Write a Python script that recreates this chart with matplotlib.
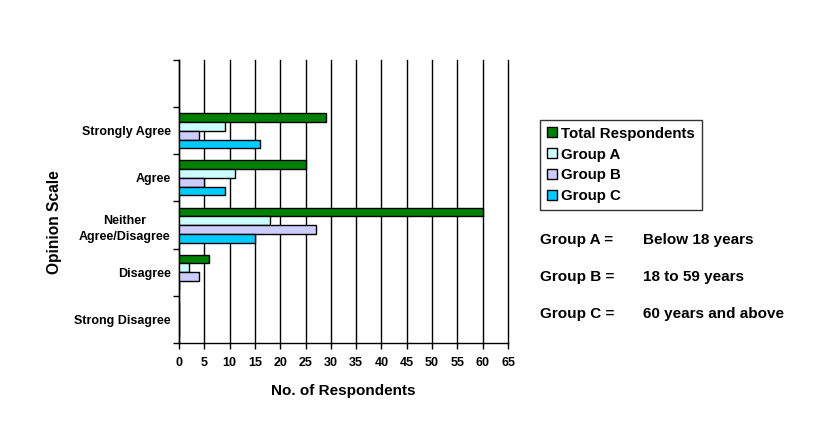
import matplotlib
matplotlib.use("Agg")
import matplotlib.pyplot as plt
import numpy as np

categories = ["Strong Disagree", "Disagree", "Neither\nAgree/Disagree", "Agree", "Strongly Agree"]
series_names = ["Total Respondents", "Group A", "Group B", "Group C"]
total = [0, 6, 60, 25, 29]
group_a = [0, 2, 18, 11, 9]
group_b = [0, 4, 27, 5, 4]
group_c = [0, 0, 15, 9, 16]
colors = ["#008000", "#CCFFFF", "#CCCCFF", "#00CCFF"]
xticks = list(range(0, 70, 5))
notes = [("Group A =", "Below 18 years"), ("Group B =", "18 to 59 years"), ("Group C =", "60 years and above")]

plt.rcParams['font.family'] = ['Liberation Sans', 'DejaVu Sans']
plt.rcParams['font.weight'] = 'bold'

fig = plt.figure(figsize=(8.4, 4.4), dpi=100)
ax = fig.add_axes([179/840, 1-343/440, 329/840, 283/440])

y = np.arange(len(categories))
h = 0.186
offsets = [1.5*h, 0.5*h, -0.5*h, -1.5*h]
data = [total, group_a, group_b, group_c]
handles = []
for vals, off, col, name in zip(data, offsets, colors, series_names):
    b = ax.barh(y + off, vals, height=h, color=col, edgecolor="black", linewidth=1.0, label=name, zorder=3)
    handles.append(b)

ax.set_xlim(0, 65)
ax.set_ylim(-0.5, len(categories) + 0.5)
ax.set_xticks(xticks)
ax.set_xticklabels([str(v) for v in xticks], fontsize=9, fontweight='bold')
ax.set_yticks(y)
ax.set_yticklabels(categories, fontsize=9, fontweight='bold', linespacing=1.5)
for t in ax.get_yticklabels():
    t.set_multialignment('center')
ax.set_yticks(np.arange(-0.5, len(categories) + 0.6, 1.0), minor=True)
ax.tick_params(axis='y', which='major', length=0, pad=6)
ax.tick_params(axis='y', which='minor', length=4, width=1, direction='out', color='black')
ax.tick_params(axis='x', which='major', length=4, width=1, direction='out', color='black', pad=6)
ax.xaxis.grid(True, color='black', linewidth=1.0, zorder=0)
for gl in ax.get_xgridlines():
    gl.set_clip_on(False)
ax.set_axisbelow(True)
for s in ['top', 'right']:
    ax.spines[s].set_visible(False)
ax.spines['left'].set_linewidth(1.0)
ax.spines['bottom'].set_linewidth(1.0)

ax.set_xlabel("No. of Respondents", fontsize=11, fontweight='bold', labelpad=11)
ax.set_ylabel("Opinion Scale", fontsize=11.2, fontweight='bold')
ax.yaxis.set_label_coords(-0.355, 0.428)

leg = fig.legend(handles=handles, labels=series_names, loc='upper left',
                 bbox_to_anchor=(540/840, 1-120/440), frameon=True, fancybox=False,
                 edgecolor='black', fontsize=10.8, handlelength=0.65, handleheight=0.65,
                 handletextpad=0.3, labelspacing=0.45, borderpad=0.45, borderaxespad=0)
leg.get_frame().set_linewidth(1.0)
for t in leg.get_texts():
    t.set_fontweight('bold')

for i, (k, v) in enumerate(notes):
    yy = 1 - (240 + i*37)/440
    fig.text(540/840, yy, k, fontsize=11, fontweight='bold', va='center', ha='left')
    fig.text(643/840, yy, v, fontsize=11, fontweight='bold', va='center', ha='left')

fig.savefig("out.png", dpi=100)
